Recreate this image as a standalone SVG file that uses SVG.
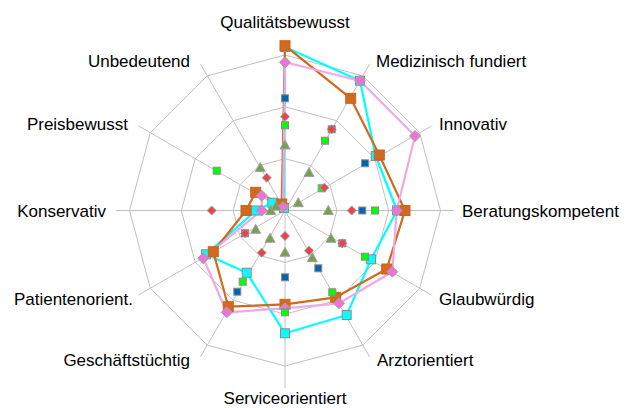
<svg xmlns="http://www.w3.org/2000/svg" width="626" height="408" viewBox="0 0 626 408">
<style>
.grid{fill:none;stroke:#C0C0C0;stroke-width:1}
.lbl{font-family:"Liberation Sans",Arial,sans-serif;font-size:17px;fill:#000}
.lo{fill:none;stroke:#D2691E;stroke-width:2.2;stroke-linejoin:round}
.lp{fill:none;stroke:#F0A8E6;stroke-width:2.2;stroke-linejoin:round}
.lc{fill:none;stroke:#00FFFF;stroke-width:2.2;stroke-linejoin:round}
.mo{fill:#D2691E;stroke:#C8651E;stroke-width:1}
.mp{fill:#EE72D8;stroke:#A0A0A0;stroke-width:1}
.mc{fill:#00FFFF;stroke:#8C8C8C;stroke-width:1}
.mb{fill:#0066B0;stroke:#8C8C8C;stroke-width:1}
.mg{fill:#00FF00;stroke:#8C8C8C;stroke-width:1}
.mr{fill:#E8454A;stroke:#A0A0A0;stroke-width:1}
.mt{fill:#78A050;stroke:#A0A0A0;stroke-width:1}
</style>
<defs>
<rect id="sqL" x="-5" y="-5" width="10" height="10"/>
<rect id="sqC" x="-4.5" y="-4.5" width="9" height="9"/>
<rect id="sqS" x="-3.5" y="-3.5" width="7" height="7"/>
<polygon id="dmL" points="0,-5.5 5.5,0 0,5.5 -5.5,0"/>
<polygon id="dmS" points="0,-4.5 4.5,0 0,4.5 -4.5,0"/>
<polygon id="tri" points="0,-5 5,4 -5,4"/>
</defs>
<g id="grid">
<polygon class="grid" points="285,158.67 310.92,165.61 329.89,184.58 336.83,210.5 329.89,236.42 310.92,255.39 285,262.33 259.08,255.39 240.11,236.42 233.17,210.5 240.11,184.58 259.08,165.61"/>
<polygon class="grid" points="285,106.83 336.83,120.72 374.78,158.67 388.67,210.5 374.78,262.33 336.83,300.28 285,314.17 233.17,300.28 195.22,262.33 181.33,210.5 195.22,158.67 233.17,120.72"/>
<polygon class="grid" points="285,55 362.75,75.83 419.67,132.75 440.5,210.5 419.67,288.25 362.75,345.17 285,366 207.25,345.17 150.33,288.25 129.5,210.5 150.33,132.75 207.25,75.83"/>
<path class="grid" d="M285,210.5L285,41.5M285,210.5L369.5,64.14M285,210.5L431.36,126M285,210.5L454,210.5M285,210.5L431.36,295M285,210.5L369.5,356.86M285,210.5L285,388M285,210.5L200.5,356.86M285,210.5L138.64,295M285,210.5L116,210.5M285,210.5L138.64,126M285,210.5L200.5,64.14"/>
</g>
<g id="labels">
<text class="lbl" x="285" y="28" text-anchor="middle">Qualitätsbewusst</text>
<text class="lbl" x="376" y="67">Medizinisch fundiert</text>
<text class="lbl" x="439" y="129.5">Innovativ</text>
<text class="lbl" x="462" y="217">Beratungskompetent</text>
<text class="lbl" x="439" y="305">Glaubwürdig</text>
<text class="lbl" x="377" y="366">Arztorientiert</text>
<text class="lbl" x="285" y="404" text-anchor="middle">Serviceorientiert</text>
<text class="lbl" x="190" y="366" text-anchor="end">Geschäftstüchtig</text>
<text class="lbl" x="133" y="304.5" text-anchor="end">Patientenorient.</text>
<text class="lbl" x="106" y="217" text-anchor="end">Konservativ</text>
<text class="lbl" x="128" y="129.5" text-anchor="end">Preisbewusst</text>
<text class="lbl" x="190" y="66.5" text-anchor="end">Unbedeutend</text>
</g>
<g id="connectors">
<polygon class="lc" points="285,47 360,80.7 375.7,156 397,210.5 371,259.3 346.7,315 285,333.3 246.7,272.7 206,254.3 256,210.5 272.3,202.7 284,208"/>
<polygon class="lo" points="285,45.7 350.7,98.3 379.3,155 405,210.5 386.7,269 335.7,297.3 285,304.3 228.3,306.7 213.3,251.7 246,210.5 255.7,192.3 281.7,204"/>
<polygon class="lp" points="285,62.3 360,80.7 415,136 396.7,210.5 392.3,271.7 339,303.3 285,308.3 226.7,312.3 203.3,258.3 261.7,210.5 261.7,195.7 283,207"/>
</g>
<g id="series-cyan" class="mc">
<use href="#sqC" x="285" y="47"/><use href="#sqC" x="360" y="80.7"/><use href="#sqC" x="375.7" y="156"/><use href="#sqC" x="397" y="210.5"/><use href="#sqC" x="371" y="259.3"/><use href="#sqC" x="346.7" y="315"/><use href="#sqC" x="285" y="333.3"/><use href="#sqC" x="246.7" y="272.7"/><use href="#sqC" x="206" y="254.3"/><use href="#sqC" x="256" y="210.5"/><use href="#sqC" x="272.3" y="202.7"/><use href="#sqC" x="284" y="208"/>
</g>
<g id="series-orange" class="mo">
<use href="#sqL" x="285" y="45.7"/><use href="#sqL" x="350.7" y="98.3"/><use href="#sqL" x="379.3" y="155"/><use href="#sqL" x="405" y="210.5"/><use href="#sqL" x="386.7" y="269"/><use href="#sqL" x="335.7" y="297.3"/><use href="#sqL" x="285" y="304.3"/><use href="#sqL" x="228.3" y="306.7"/><use href="#sqL" x="213.3" y="251.7"/><use href="#sqL" x="246" y="210.5"/><use href="#sqL" x="255.7" y="192.3"/><use href="#sqL" x="281.7" y="204"/>
</g>
<g id="series-pink" class="mp">
<use href="#dmL" x="285" y="62.3"/><use href="#dmL" x="360" y="80.7"/><use href="#dmL" x="415" y="136"/><use href="#dmL" x="396.7" y="210.5"/><use href="#dmL" x="392.3" y="271.7"/><use href="#dmL" x="339" y="303.3"/><use href="#dmL" x="285" y="308.3"/><use href="#dmL" x="226.7" y="312.3"/><use href="#dmL" x="203.3" y="258.3"/><use href="#dmL" x="261.7" y="210.5"/><use href="#dmL" x="261.7" y="195.7"/><use href="#dmL" x="283" y="207"/>
</g>
<g id="series-blue" class="mb">
<use href="#sqS" x="285" y="98.3"/><use href="#sqS" x="331.7" y="129.3"/><use href="#sqS" x="365" y="163.3"/><use href="#sqS" x="362.3" y="210.5"/><use href="#sqS" x="342.3" y="243.3"/><use href="#sqS" x="318.3" y="268.3"/><use href="#sqS" x="285" y="277.3"/><use href="#sqS" x="237.3" y="291.7"/><use href="#sqS" x="245" y="233.3"/>
</g>
<g id="series-green" class="mg">
<use href="#sqS" x="285" y="125.3"/><use href="#sqS" x="325" y="140.7"/><use href="#sqS" x="321.7" y="188.3"/><use href="#sqS" x="375" y="210.5"/><use href="#sqS" x="365" y="256.7"/><use href="#sqS" x="332.3" y="292.3"/><use href="#sqS" x="285" y="312.3"/><use href="#sqS" x="242.7" y="281.7"/><use href="#sqS" x="216.7" y="170.7"/>
</g>
<g id="series-red" class="mr">
<use href="#dmS" x="285" y="116.7"/><use href="#dmS" x="331.7" y="129.3"/><use href="#dmS" x="324.3" y="187.7"/><use href="#dmS" x="351.7" y="210.5"/><use href="#dmS" x="342.3" y="243.3"/><use href="#dmS" x="309" y="250.7"/><use href="#dmS" x="285" y="236"/><use href="#dmS" x="261.7" y="252.7"/><use href="#dmS" x="245" y="233.3"/><use href="#dmS" x="211.7" y="210.5"/><use href="#dmS" x="266.7" y="177.7"/>
</g>
<g id="series-olive" class="mt">
<use href="#tri" x="285" y="145"/><use href="#tri" x="309" y="172.5"/><use href="#tri" x="298.3" y="202.7"/><use href="#tri" x="328.3" y="210.5"/><use href="#tri" x="331" y="238.3"/><use href="#tri" x="312.3" y="257.7"/><use href="#tri" x="285" y="252.3"/><use href="#tri" x="270" y="238.3"/><use href="#tri" x="255.7" y="229.3"/><use href="#tri" x="270.7" y="210.5"/><use href="#tri" x="276" y="206"/><use href="#tri" x="260.3" y="167.6"/>
</g>
</svg>
